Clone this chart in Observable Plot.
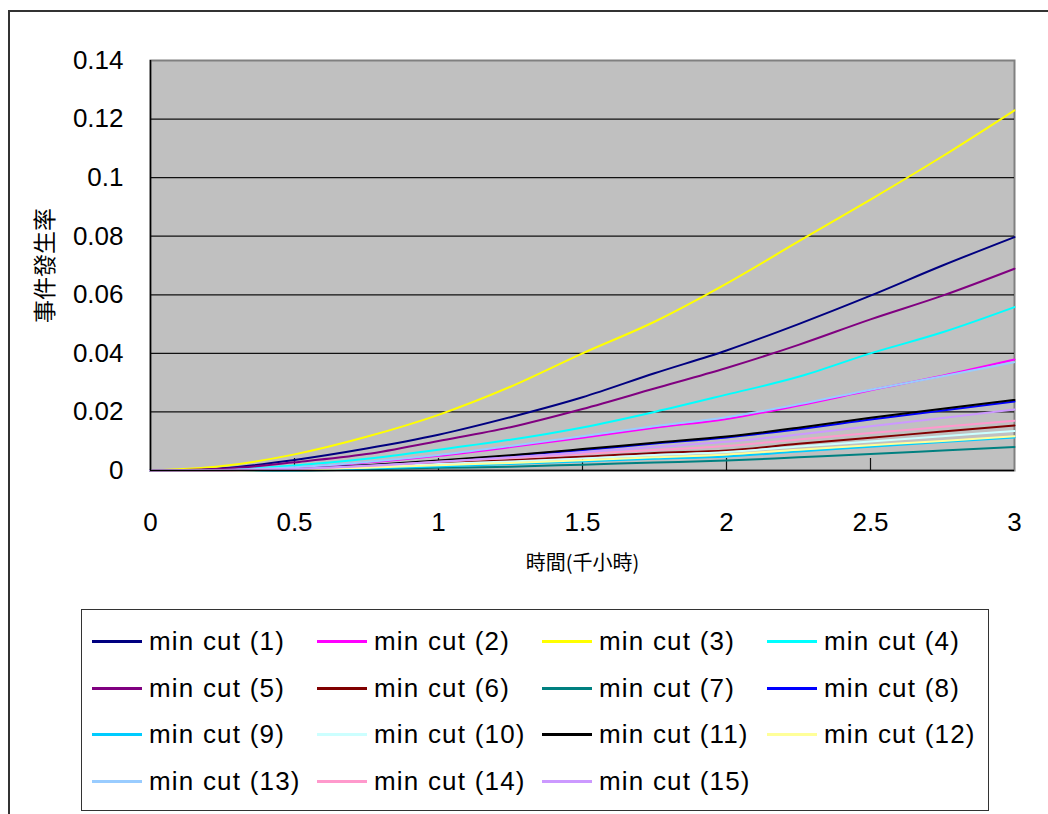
<!DOCTYPE html>
<html>
<head>
<meta charset="utf-8">
<script src="https://cdn.jsdelivr.net/npm/d3@7"></script>
<script src="https://cdn.jsdelivr.net/npm/@observablehq/plot@0.6"></script>
<style>
  html, body { margin: 0; padding: 0; background: #fff; overflow: hidden; width: 1048px; height: 814px; }
  #frame { position: absolute; left: 8px; top: 10px; width: 1100px; height: 900px; border-left: 2px solid #333; border-top: 2px solid #333; }
  #chart { position: absolute; left: 0; top: 0; }
  #chart svg text.tick { letter-spacing: 1px; }
  #legend { position: absolute; left: 81px; top: 609px; width: 908px; height: 202px; border: 1px solid #333; box-sizing: border-box; background: #fff;
            display: grid; grid-template-columns: 225px 225px 225px 225px; grid-auto-rows: 46.7px; padding-top: 8px; padding-left: 10px;
            font-family: "Liberation Sans", Arial, sans-serif; font-size: 26px; letter-spacing: 1.2px; color: #000; }
  .item { display: flex; align-items: center; white-space: nowrap; }
  .swatch { display: inline-block; width: 50px; height: 0; border-top: 3px solid; margin-right: 7px; }
</style>
</head>
<body>
<div id="frame"></div>
<div id="chart"></div>
<div id="legend"></div>
<script>
// ---- data ----
const times = [0, 0.25, 0.5, 0.75, 1, 1.25, 1.5, 1.75, 2, 2.25, 2.5, 2.75, 3];
const seriesNames = ["min cut (1)", "min cut (2)", "min cut (3)", "min cut (4)", "min cut (5)",
  "min cut (6)", "min cut (7)", "min cut (8)", "min cut (9)", "min cut (10)",
  "min cut (11)", "min cut (12)", "min cut (13)", "min cut (14)", "min cut (15)"];
const seriesColors = ["#000080", "#FF00FF", "#FFFF00", "#00FFFF", "#800080",
  "#800000", "#008080", "#0000FF", "#00CCFF", "#CCFFFF",
  "#000000", "#FFFF99", "#99CCFF", "#FF99CC", "#CC99FF"];
const mc1  = [0, 0.0008, 0.0036, 0.0075, 0.0122, 0.0182, 0.0250, 0.0332, 0.0410, 0.0500, 0.0597, 0.0700, 0.0797];
const mc2  = [0, 0.0002, 0.0010, 0.0027, 0.0050, 0.0080, 0.0112, 0.0146, 0.0176, 0.0222, 0.0274, 0.0324, 0.0379];
const mc3  = [0, 0.0015, 0.0055, 0.0115, 0.0190, 0.0286, 0.0400, 0.0508, 0.0638, 0.0782, 0.0925, 0.1073, 0.1230];
const mc4  = [0, 0.0003, 0.0017, 0.0040, 0.0071, 0.0105, 0.0147, 0.0200, 0.0259, 0.0320, 0.0400, 0.0472, 0.0558];
const mc5  = [0, 0.0006, 0.0028, 0.0056, 0.0101, 0.0148, 0.0210, 0.0280, 0.0350, 0.0429, 0.0516, 0.0597, 0.0689];
const mc6  = [0, 0, 0.0004, 0.0013, 0.0026, 0.0035, 0.0047, 0.0060, 0.0068, 0.0091, 0.0112, 0.0133, 0.0154];
const mc7  = [0, 0, 0, 0.0004, 0.0009, 0.0013, 0.0020, 0.0027, 0.0034, 0.0045, 0.0056, 0.0068, 0.0080];
const mc8  = [0, 0.0001, 0.0006, 0.0017, 0.0032, 0.0050, 0.0070, 0.0092, 0.0113, 0.0141, 0.0174, 0.0205, 0.0236];
const mc9  = [0, 0, 0.0001, 0.0007, 0.0014, 0.0022, 0.0031, 0.0040, 0.0048, 0.0065, 0.0081, 0.0097, 0.0113];
const mc10 = [0, 0, 0.0003, 0.0011, 0.0022, 0.0031, 0.0041, 0.0053, 0.0063, 0.0082, 0.0099, 0.0117, 0.0135];
const mc11 = [0, 0.0001, 0.0006, 0.0018, 0.0034, 0.0052, 0.0073, 0.0095, 0.0116, 0.0146, 0.0180, 0.0211, 0.0241];
const mc12 = [0, 0, 0.0003, 0.0009, 0.0018, 0.0026, 0.0035, 0.0045, 0.0055, 0.0071, 0.0086, 0.0101, 0.0117];
const mc13 = [0, 0.0002, 0.0011, 0.0029, 0.0053, 0.0084, 0.0117, 0.0151, 0.0182, 0.0226, 0.0276, 0.0322, 0.0370];
const mc14 = [0, 0, 0.0005, 0.0015, 0.0030, 0.0043, 0.0056, 0.0070, 0.0084, 0.0106, 0.0128, 0.0149, 0.0170];
const mc15 = [0, 0.0001, 0.0006, 0.0016, 0.0030, 0.0045, 0.0062, 0.0080, 0.0098, 0.0123, 0.0151, 0.0179, 0.0208];
const xTicks = [0, 0.5, 1, 1.5, 2, 2.5, 3];
const yTicks = [0, 0.02, 0.04, 0.06, 0.08, 0.1, 0.12, 0.14];
const xLabel = "時間(千小時)";
const yLabel = "事件發生率";

const seriesValues = [mc1, mc2, mc3, mc4, mc5, mc6, mc7, mc8, mc9, mc10, mc11, mc12, mc13, mc14, mc15];
const rows = seriesNames.flatMap((name, i) => seriesValues[i].map((v, j) => ({t: times[j], v, s: name})));

const chart = Plot.plot({
  width: 1048,
  height: 600,
  marginLeft: 150,
  marginRight: 34,
  marginTop: 60,
  marginBottom: 130,
  style: {fontFamily: "'Liberation Sans', Arial, sans-serif", background: "transparent", overflow: "visible"},
  x: {domain: [0, 3], label: null},
  y: {domain: [0, 0.14], label: null},
  color: {domain: seriesNames, range: seriesColors},
  marks: [
    Plot.frame({fill: "#C0C0C0", stroke: "#808080", strokeWidth: 2}),
    Plot.ruleY(yTicks.filter(d => d > 0 && d < 0.14), {stroke: "#111", strokeWidth: 1.2}),
    Plot.ruleX(xTicks.filter(d => d > 0 && d < 3), {y1: 0, y2: 0.0041, stroke: "#111", strokeWidth: 1.2}),
    Plot.line(rows, {x: "t", y: "v", z: "s", stroke: "s", strokeWidth: 2, curve: "monotone-x"}),
    Plot.ruleY([0], {stroke: "#000", strokeWidth: 1.5}),
    Plot.ruleX([0], {stroke: "#000", strokeWidth: 1.5}),
    Plot.axisY(yTicks, {tickSize: 0, tickPadding: 27, tickFormat: d => String(d), fontSize: 26, label: null, className: "tick"}),
    Plot.axisX(xTicks, {tickSize: 0, tickPadding: 42, tickFormat: d => String(d), fontSize: 26, label: null}),
    Plot.text([xLabel], {frameAnchor: "bottom", dy: 99, fontSize: 20, fontFamily: "'Noto Sans CJK TC', sans-serif", fill: "#000"}),
    Plot.text([yLabel], {frameAnchor: "left", textAnchor: "middle", dx: -105, rotate: -90, fontSize: 23, fontFamily: "'Noto Sans CJK TC', sans-serif", fill: "#000"})
  ]
});
document.getElementById("chart").appendChild(chart);

const legend = document.getElementById("legend");
seriesNames.forEach((name, i) => {
  const item = document.createElement("div");
  item.className = "item";
  const sw = document.createElement("span");
  sw.className = "swatch";
  sw.style.borderTopColor = seriesColors[i];
  const label = document.createElement("span");
  label.textContent = name;
  item.appendChild(sw);
  item.appendChild(label);
  legend.appendChild(item);
});
</script>
</body>
</html>
